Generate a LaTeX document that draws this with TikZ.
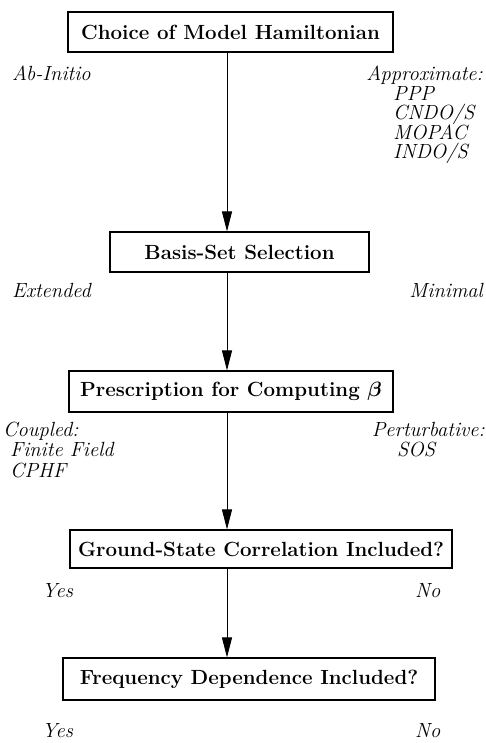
\documentclass[tikz,border=0pt]{standalone}
\usepackage{amsmath,amssymb}
\usepackage{tikz}
\usetikzlibrary{arrows.meta}

\tikzset{
  stepbox/.style={draw,line width=1.1pt,inner sep=0pt,
    font=\fontsize{20.5}{23}\selectfont\bfseries},
  lbl/.style={inner sep=0pt,text height=12pt,text depth=4pt,
    font=\fontsize{20.5}{22}\selectfont\itshape},
  flow/.style={line width=0.9pt,-{Triangle[length=20pt,width=10pt]}}
}

\begin{document}
\begin{tikzpicture}[x=1pt,y=-1pt]
	\useasboundingbox (0,0) rectangle (486,743);
	%boxes of the flow placed by hand
	\node[stepbox,minimum width=325pt,minimum height=40pt] (ham) at (230.5,32){Choice of Model Hamiltonian};
	\node[stepbox,minimum width=259pt,minimum height=40pt] (basis) at (239.5,252){Basis-Set Selection};
	\node[stepbox,minimum width=324pt,minimum height=41pt] (beta) at (231,391.5){Prescription for Computing $\boldsymbol{\beta}$};
	\node[stepbox,minimum width=382pt,minimum height=38pt] (gsc) at (261,549){Ground-State Correlation Included?};
	\node[stepbox,minimum width=372pt,minimum height=42pt] (freq) at (249,679){Frequency Dependence Included?};
	%% the arrows, all on one vertical line
	\coordinate (c1) at (227,0|-ham.south);
	\draw[flow] (c1) -- (c1|-basis.north);
	\draw[flow] (c1|-basis.south) -- (c1|-beta.north);
	\draw[flow] (c1|-beta.south) -- (c1|-gsc.north);
	\draw[flow] (c1|-gsc.south) -- (c1|-freq.north);
	%% choices on the left
	\node[lbl,anchor=west] (abin) at (12,77){Ab-Initio};
	\node[lbl,anchor=west] (ext) at (12,293){Extended};
	\node[lbl,anchor=west] (coup) at (3,432){Coupled:};
	\foreach \t [count=\i] in {Finite Field,CPHF}
		\node[lbl,anchor=west] (coup\i) at (10,{432+20.5*\i}){\t};
	\node[lbl,anchor=west] (yes1) at (42,593){Yes};
	\node[lbl,anchor=west] (yes2) at (42,733){Yes};
	%% choices on the right
	\node[lbl,anchor=east] (appr) at (483,77){Approximate:};
	\foreach \t [count=\i] in {PPP,CNDO/S,MOPAC,INDO/S}
		\node[lbl,anchor=west] (appr\i) at (393,{77+19.5*\i}){\t};
	\node[lbl,anchor=east] (mini) at (483,293){Minimal};
	\node[lbl,anchor=east] (pert) at (485,432){Perturbative:};
	\node[lbl,anchor=west] (sos) at (397,452.5){SOS};
	\node[lbl,anchor=west] (no1) at (415,593){No};
	\node[lbl,anchor=west] (no2) at (415,733){No};
\end{tikzpicture}
\end{document}
